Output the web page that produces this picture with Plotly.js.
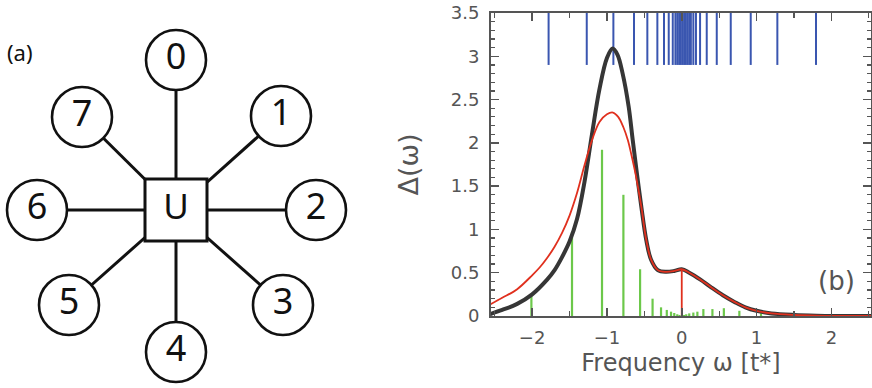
<!DOCTYPE html>
<html>
<head>
<meta charset="utf-8">
<script src="https://cdn.plot.ly/plotly-3.0.1.min.js"></script>
<style>html,body{margin:0;padding:0;background:#fff;}#chart{width:872px;height:388px;}</style>
</head>
<body>
<div id="chart"></div>
<script>
// ---------- Panel (a): star diagram ----------
const nodeLabels = ['0', '1', '2', '3', '4', '5', '6', '7'];
const nodeX = [176, 281, 316, 283, 176, 69, 37, 82];
const nodeY = [60, 116, 210, 305, 352, 305, 210, 117];
const hubLabel = 'U';
const hubX = 176;
const hubY = 210;

// ---------- Panel (b): hybridization ----------
const blackW = [-2.57, -2.4, -2.2, -2.0, -1.8, -1.7, -1.6, -1.5, -1.4, -1.3, -1.2, -1.1, -1.0, -0.925, -0.86, -0.79, -0.71, -0.655, -0.6, -0.54, -0.475, -0.41, -0.32, -0.21, -0.1, 0.0, 0.1, 0.25, 0.38, 0.55, 0.71, 0.85, 1.0, 1.2, 1.5, 1.8, 2.1, 2.56];
const blackD = [0.02, 0.07, 0.14, 0.25, 0.42, 0.53, 0.68, 0.86, 1.12, 1.55, 2.1, 2.62, 2.98, 3.09, 3.02, 2.8, 2.42, 2.03, 1.65, 1.26, 0.88, 0.65, 0.53, 0.51, 0.52, 0.54, 0.5, 0.42, 0.34, 0.24, 0.16, 0.1, 0.06, 0.03, 0.012, 0.004, 0.001, 0.0];
const redW = [-2.57, -2.4, -2.2, -2.0, -1.9, -1.8, -1.7, -1.6, -1.5, -1.4, -1.3, -1.2, -1.1, -1.0, -0.92, -0.85, -0.78, -0.72, -0.67, -0.62, -0.54, -0.475, -0.41, -0.32, -0.21, -0.1, 0.0, 0.1, 0.25, 0.38, 0.55, 0.71, 0.85, 1.0, 1.2, 1.5, 1.8, 2.1, 2.56];
const redD = [0.13, 0.21, 0.31, 0.47, 0.56, 0.67, 0.8, 0.96, 1.16, 1.42, 1.74, 2.03, 2.24, 2.33, 2.35, 2.3, 2.18, 2.03, 1.85, 1.65, 1.26, 0.88, 0.65, 0.53, 0.51, 0.52, 0.54, 0.5, 0.42, 0.34, 0.24, 0.16, 0.1, 0.06, 0.03, 0.012, 0.004, 0.001, 0.0];
const redStickW = [0.0];
const redStickD = [0.54];
const greenW = [-2.01, -1.467, -1.066, -0.78, -0.557, -0.39, -0.277, -0.2, -0.143, -0.1, -0.06, -0.03, 0.03, 0.06, 0.1, 0.155, 0.209, 0.289, 0.41, 0.563, 0.77, 1.06, 1.47];
const greenD = [0.24, 0.97, 1.92, 1.4, 0.54, 0.2, 0.1, 0.07, 0.05, 0.035, 0.02, 0.012, 0.012, 0.02, 0.03, 0.04, 0.05, 0.08, 0.08, 0.09, 0.06, 0.03, 0.01];
const blueW = [-1.78, -1.27, -0.914, -0.638, -0.46, -0.326, -0.237, -0.174, -0.12, -0.085, -0.06, -0.035, -0.012, 0.01, 0.032, 0.055, 0.078, 0.1, 0.122, 0.155, 0.19, 0.245, 0.334, 0.468, 0.655, 0.922, 1.278, 1.795];
const blueFrom = 2.9;
const blueTo = 3.5;

function sticks(xs, y0s, y1s) {
  const x = [], y = [];
  xs.forEach((v, i) => {
    const a = Array.isArray(y0s) ? y0s[i] : y0s;
    const b = Array.isArray(y1s) ? y1s[i] : y1s;
    x.push(v, v, null); y.push(a, b, null);
  });
  return {x, y};
}

const edgeX = [], edgeY = [];
nodeX.forEach((v, i) => { edgeX.push(hubX, v, null); edgeY.push(hubY, nodeY[i], null); });

const gFont = 'DejaVu Sans, sans-serif';
const dFont = 'Noto Sans, Open Sans, sans-serif';
const axCol = '#555555';

const green = sticks(greenW, 0, greenD);
const blue = sticks(blueW, blueFrom, blueTo);
const redStick = sticks(redStickW, 0, redStickD);

const traces = [
  {x: edgeX, y: edgeY, xaxis: 'x2', yaxis: 'y2', mode: 'lines', line: {color: '#111', width: 3}, hoverinfo: 'skip', showlegend: false},
  {x: [hubX], y: [hubY], xaxis: 'x2', yaxis: 'y2', mode: 'markers+text', text: [hubLabel], textposition: 'middle center',
   textfont: {family: dFont, size: 35, color: '#111'},
   marker: {symbol: 'square', size: 62, color: '#fff', line: {color: '#111', width: 3}}, hoverinfo: 'skip', showlegend: false},
  {x: nodeX, y: nodeY, xaxis: 'x2', yaxis: 'y2', mode: 'markers+text', text: nodeLabels, textposition: 'middle center',
   textfont: {family: dFont, size: 36, color: '#111'},
   marker: {symbol: 'circle', size: 60, color: '#fff', line: {color: '#111', width: 2.6}}, hoverinfo: 'skip', showlegend: false},

  {x: green.x, y: green.y, mode: 'lines', line: {color: '#6cc84a', width: 2.2}, showlegend: false, hoverinfo: 'skip'},
  {x: blue.x, y: blue.y, mode: 'lines', line: {color: '#3a56b0', width: 2}, showlegend: false, hoverinfo: 'skip'},
  {x: blackW, y: blackD, mode: 'lines', line: {color: '#363636', width: 4, shape: 'spline', smoothing: 1}, showlegend: false},
  {x: redStick.x, y: redStick.y, mode: 'lines', line: {color: '#e0301e', width: 1.8}, showlegend: false, hoverinfo: 'skip'},
  {x: redW, y: redD, mode: 'lines', line: {color: '#e0301e', width: 1.8, shape: 'spline', smoothing: 1}, showlegend: false}
];

const layout = {
  width: 872, height: 388,
  margin: {l: 0, r: 0, t: 0, b: 0},
  paper_bgcolor: '#fff', plot_bgcolor: 'rgba(0,0,0,0)',
  showlegend: false,
  xaxis: {
    domain: [491 / 872, 871 / 872], range: [-2.55, 2.53], anchor: 'y',
    showline: true, linecolor: axCol, linewidth: 2, mirror: 'allticks',
    ticks: 'inside', ticklen: 8, tickwidth: 1.5, tickcolor: axCol,
    tick0: 0, dtick: 1, showgrid: false, zeroline: false,
    minor: {dtick: 0.5, ticks: 'inside', ticklen: 5, tickwidth: 1.2, tickcolor: axCol, showgrid: false},
    tickfont: {family: gFont, size: 18, color: '#555'},
    ticklabelstandoff: 4, automargin: false,
    title: {text: 'Frequency ω [t*]', font: {family: gFont, size: 24, color: '#555'}, standoff: 8}
  },
  yaxis: {
    domain: [72 / 388, 375 / 388], range: [0, 3.5], anchor: 'x',
    showline: true, linecolor: axCol, linewidth: 2, mirror: 'allticks',
    ticks: 'inside', ticklen: 8, tickwidth: 1.5, tickcolor: axCol,
    tick0: 0, dtick: 0.5, showgrid: false, zeroline: false,
    minor: {dtick: 0.1, ticks: 'inside', ticklen: 4, tickwidth: 1.2, tickcolor: axCol, showgrid: false},
    tickfont: {family: gFont, size: 18, color: '#555'},
    ticklabelstandoff: 6, automargin: false,
    title: {text: 'Δ(ω)', font: {family: gFont, size: 27, color: '#555'}, standoff: 24}
  },
  xaxis2: {domain: [0, 0.5], range: [0, 436], visible: false, fixedrange: true, anchor: 'y2'},
  yaxis2: {domain: [0, 1], range: [388, 0], visible: false, fixedrange: true, anchor: 'x2'},
  annotations: [
    {xref: 'paper', yref: 'paper', x: 20 / 872, y: 1 - 52 / 388, text: '(a)', showarrow: false,
     font: {family: dFont, size: 22, color: '#111'}, xanchor: 'center', yanchor: 'middle'},
    {xref: 'x', yref: 'y', x: 2.07, y: 0.4, text: '(b)', showarrow: false,
     font: {family: gFont, size: 26, color: '#555'}, xanchor: 'center', yanchor: 'middle'}
  ]
};

Plotly.newPlot('chart', traces, layout, {displayModeBar: false, staticPlot: true});
</script>
</body>
</html>
